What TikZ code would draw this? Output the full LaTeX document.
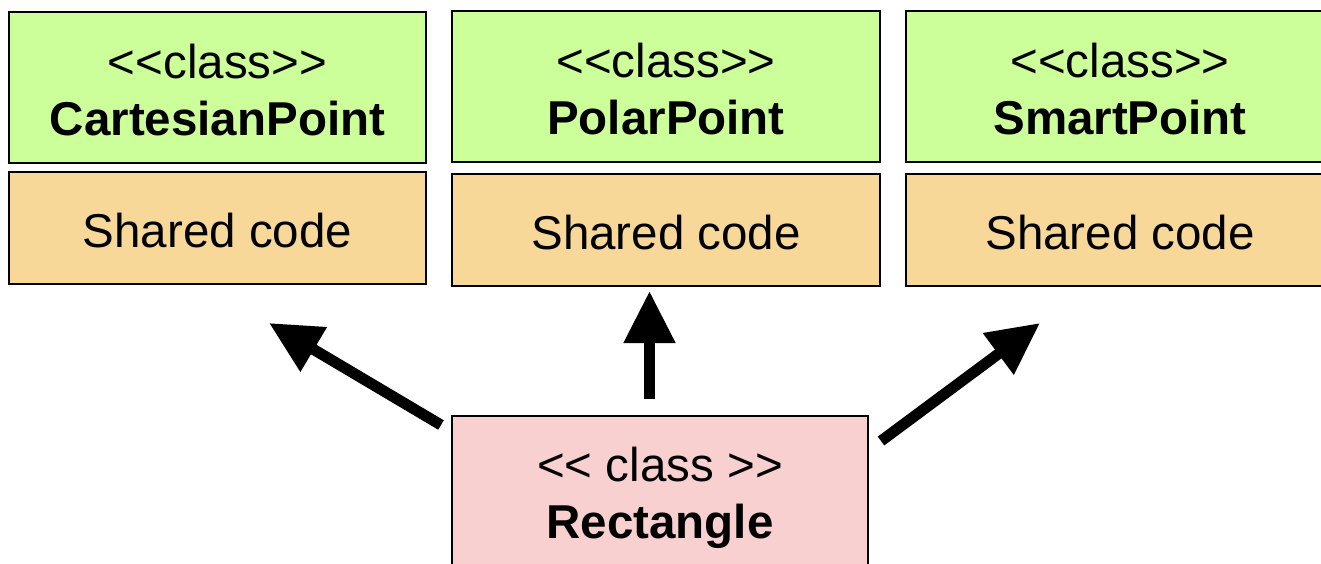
\documentclass[tikz,border=0pt]{standalone}
\usepackage{fontspec}
\setmainfont{Liberation Sans}
\usetikzlibrary{arrows.meta}
\definecolor{clsgreen}{RGB}{204,255,153}
\definecolor{codeorange}{RGB}{248,216,152}
\definecolor{rectpink}{RGB}{248,208,208}
\newcommand{\lt}{<\kern0pt<}
\newcommand{\gt}{>\kern0pt>}
\begin{document}
\begin{tikzpicture}[x=1pt,y=-1pt,
  box/.style={draw=black,line width=2pt,inner sep=0pt},
  clsbox/.style={box,fill=clsgreen,minimum height=151pt},
  codebox/.style={box,fill=codeorange,minimum height=112pt},
  txt/.style={inner sep=0pt,align=center,font=\fontsize{47.5}{57}\selectfont},
  bigarrow/.style={line width=11pt,-{Triangle[length=52pt,width=49pt]}}]
\useasboundingbox (0,0) rectangle (1321,563);
% class boxes
\node[clsbox,minimum width=417pt] (c1) at (217.5,87.5) {};
\node[codebox,minimum width=417pt] (s1) at (217.5,228) {};
\node[clsbox,minimum width=428pt] (c2) at (666,86.5) {};
\node[codebox,minimum width=428pt] (s2) at (666,230) {};
\node[clsbox,minimum width=428pt] (c3) at (1120,86.5) {};
\node[codebox,minimum width=428pt] (s3) at (1120,230) {};
% rectangle class
\node[box,fill=rectpink,minimum width=416pt,minimum height=150pt] (r) at (660,491) {};
% texts
\node[txt] (c1t) at ([yshift=-3pt]c1.center) {\lt class\gt\\\textbf{CartesianPoint}};
\node[txt] (s1t) at ([yshift=-3pt]s1.center) {Shared code};
\node[txt] (c2t) at ([yshift=-3pt]c2.center) {\lt class\gt\\\textbf{PolarPoint}};
\node[txt] (s2t) at ([yshift=-3pt]s2.center) {Shared code};
\node[txt] (c3t) at ([yshift=-3pt]c3.center) {\lt class\gt\\\textbf{SmartPoint}};
\node[txt] (s3t) at ([yshift=-3pt]s3.center) {Shared code};
\node[txt] (rt) at ([yshift=-7pt]r.center) {\lt{} class \gt\\\textbf{Rectangle}};
% arrow ends
\coordinate (a1s) at (441,425);
\coordinate (a1e) at (269,323);
\coordinate (a2s) at (649.5,399);
\coordinate (a2e) at (649.5,291);
\coordinate (a3s) at (881,441);
\coordinate (a3e) at (1040,323);
\draw[bigarrow] (a1s) -- (a1e);
\draw[bigarrow] (a2s) -- (a2e);
\draw[bigarrow] (a3s) -- (a3e);
\end{tikzpicture}
\end{document}
